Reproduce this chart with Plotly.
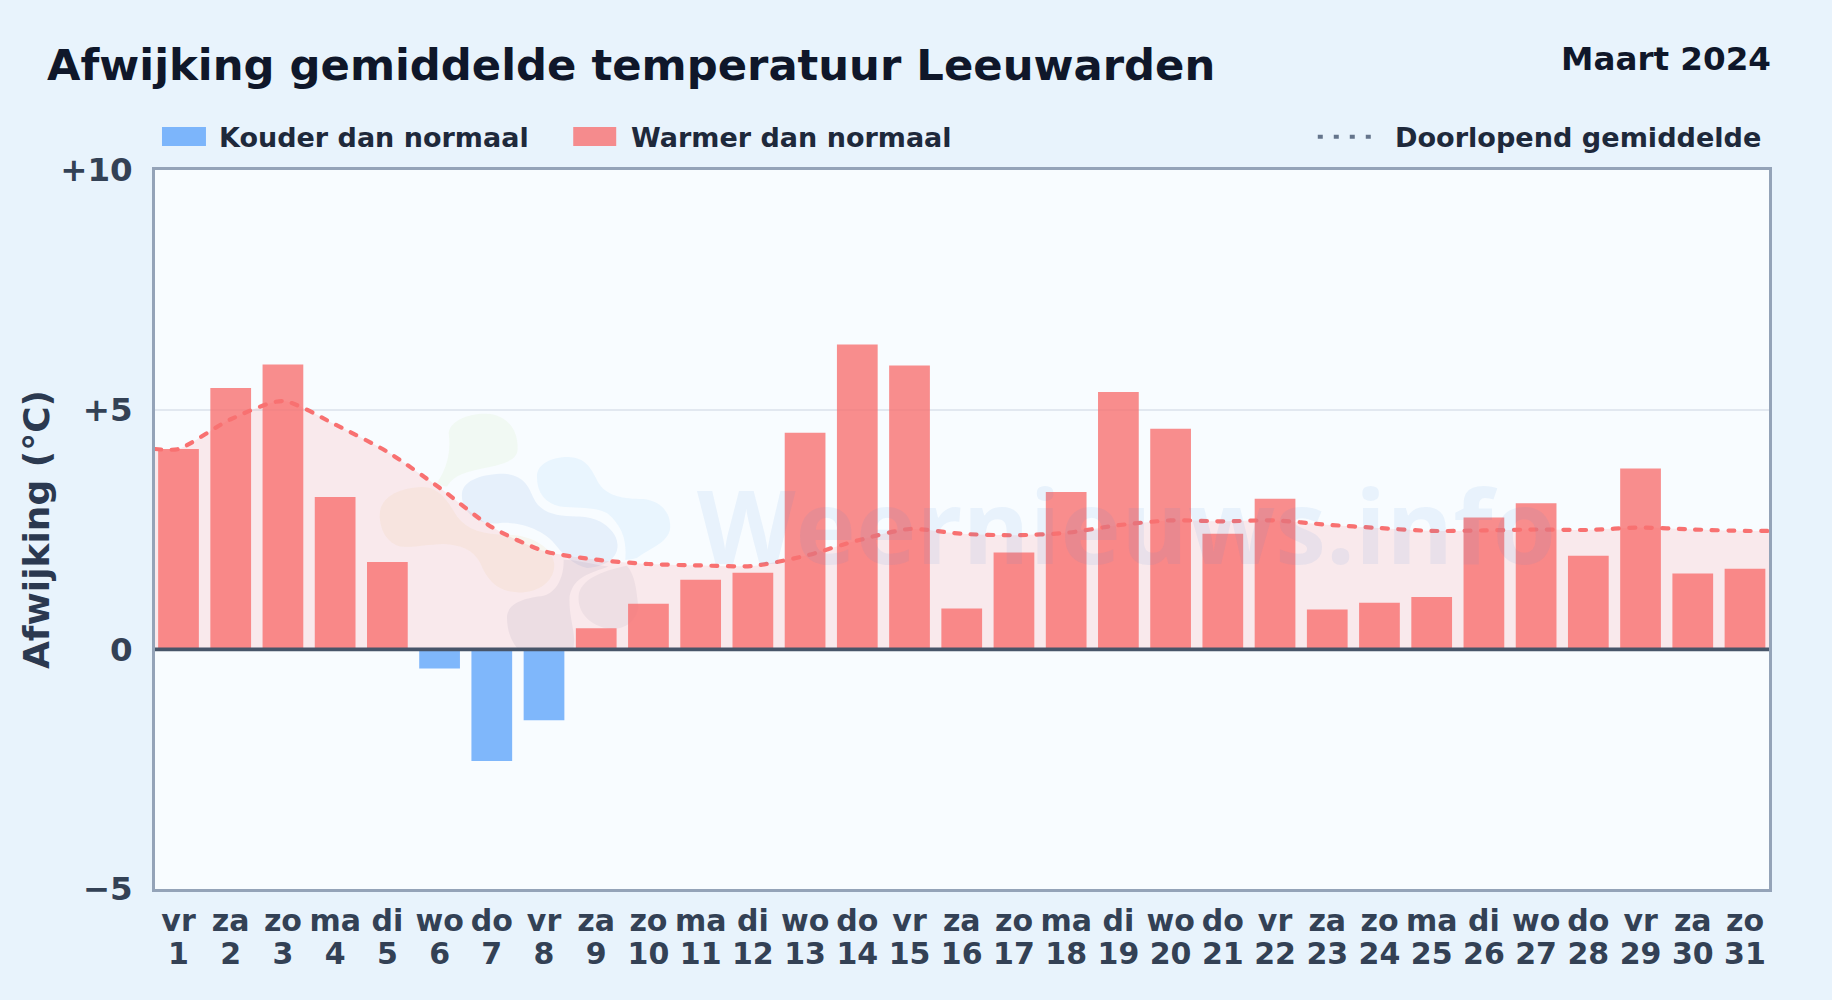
import plotly.graph_objects as go

W, H = 1832, 1000
PL, PR, PT, PB = 154.5, 1769.5, 170, 889.5

TITLE = "Afwijking gemiddelde temperatuur Leeuwarden"
PERIOD = "Maart 2024"
YTITLE = "Afwijking (°C)"
WATERMARK = "Weernieuws.info"
COLD_NAME = "Kouder dan normaal"
WARM_NAME = "Warmer dan normaal"
LINE_NAME = "Doorlopend gemiddelde"

days = list(range(1, 32))
weekdays = ["vr", "za", "zo", "ma", "di", "wo", "do", "vr", "za", "zo", "ma", "di", "wo", "do", "vr", "za",
            "zo", "ma", "di", "wo", "do", "vr", "za", "zo", "ma", "di", "wo", "do", "vr", "za", "zo"]
deviation = [4.18, 5.45, 5.94, 3.18, 1.82, -0.40, -2.33, -1.48, 0.44, 0.95, 1.45, 1.60, 4.52, 6.36, 5.92, 0.85,
             2.02, 3.28, 5.37, 4.60, 2.41, 3.14, 0.83, 0.97, 1.09, 2.75, 3.05, 1.95, 3.77, 1.58, 1.68]
X_RANGE = [0.55, 31.46]
running_x = [X_RANGE[0]] + days + [X_RANGE[1]]
running_mean = [4.18, 4.18, 4.80, 5.18, 4.69, 4.12, 3.37, 2.55, 2.05, 1.87, 1.78, 1.75, 1.74, 1.95, 2.27, 2.51,
                2.41, 2.38, 2.43, 2.59, 2.69, 2.67, 2.69, 2.60, 2.53, 2.47, 2.48, 2.50, 2.49, 2.54, 2.50, 2.47, 2.47]
y_ticks = [-5, 0, 5, 10]
y_labels = ["\u22125", "0", "+5", "+10"]

FONT = "DejaVu Sans"
RED = "248,113,113"
BLUE = "96,165,250"


def px(x):
    return (x - PL) / (PR - PL)


def py(y):
    return (PB - y) / (PB - PT)


cold_x = [d for d, v in zip(days, deviation) if v < 0]
cold_y = [v for v in deviation if v < 0]
warm_x = [d for d, v in zip(days, deviation) if v >= 0]
warm_y = [v for v in deviation if v >= 0]

fig = go.Figure()
fig.add_trace(go.Bar(x=cold_x, y=cold_y, width=0.78, name=COLD_NAME, marker=dict(color=f"rgba({BLUE},0.8)", line_width=0)))
fig.add_trace(go.Bar(x=warm_x, y=warm_y, width=0.78, name=WARM_NAME, marker=dict(color=f"rgba({RED},0.8)", line_width=0)))
fig.add_trace(go.Scatter(x=running_x, y=running_mean, name=LINE_NAME, mode="lines", xaxis="x2",
                         fill="tozeroy", fillcolor="rgba(255,110,105,0.13)",
                         line=dict(color=f"rgb({RED})", width=4.2, dash="6px,10.5px", shape="spline", smoothing=0.7)))


def logo_path(segments):
    """Logo outline, written as pixel points of a zoomed crop, to paper coordinates."""
    out = []
    for cmd, pts in segments:
        conv = []
        for zx, zy in pts:
            conv.append(f"{px(360 + zx / 3):.5f},{py(400 + zy / 3):.5f}")
        out.append(cmd + " ".join(conv))
    return " ".join(out) + " Z"


blobs = [
    ("rgba(185,225,140,0.10)", [("M", [(265, 100)]), ("C", [(270, 60), (330, 40), (380, 42)]),
                               ("C", [(440, 45), (475, 90), (472, 150)]), ("C", [(470, 185), (420, 195), (370, 205)]),
                               ("C", [(320, 215), (280, 225), (260, 260)]), ("C", [(240, 260), (235, 250), (230, 250)]),
                               ("C", [(250, 220), (275, 170), (265, 100)])]),
    ("rgba(240,200,120,0.11)", [("M", [(58, 345)]), ("C", [(60, 295), (110, 265), (185, 262)]),
                               ("C", [(240, 262), (265, 310), (290, 350)]), ("C", [(320, 390), (370, 405), (440, 405)]),
                               ("C", [(520, 405), (585, 450), (582, 500)]), ("C", [(578, 550), (530, 580), (470, 578)]),
                               ("C", [(410, 575), (380, 540), (360, 490)]), ("C", [(340, 450), (300, 435), (250, 433)]),
                               ("C", [(190, 435), (160, 445), (120, 440)]), ("C", [(80, 430), (58, 390), (58, 345)])]),
    ("rgba(90,150,215,0.11)", [("M", [(305, 280)]), ("C", [(310, 240), (370, 222), (430, 222)]),
                              ("C", [(490, 225), (505, 260), (520, 295)]), ("C", [(540, 340), (590, 350), (650, 350)]),
                              ("C", [(720, 348), (775, 395), (772, 440)]), ("C", [(770, 480), (730, 500), (680, 505)]),
                              ("C", [(640, 495), (610, 465), (590, 440)]), ("C", [(550, 385), (470, 365), (420, 370)]),
                              ("C", [(360, 380), (300, 340), (305, 280)])]),
    ("rgba(115,190,250,0.11)", [("M", [(530, 230)]), ("C", [(530, 190), (580, 170), (630, 172)]),
                               ("C", [(680, 175), (695, 210), (715, 250)]), ("C", [(740, 290), (790, 298), (850, 298)]),
                               ("C", [(905, 305), (932, 340), (930, 385)]), ("C", [(925, 430), (870, 445), (830, 475)]),
                               ("C", [(810, 480), (800, 480), (795, 480)]), ("C", [(800, 430), (790, 380), (740, 340)]),
                               ("C", [(700, 320), (650, 325), (600, 320)]), ("C", [(555, 310), (530, 280), (530, 230)])]),
    ("rgba(80,80,130,0.08)", [("M", [(440, 650)]), ("C", [(445, 605), (500, 595), (550, 588)]),
                             ("C", [(590, 578), (612, 530), (610, 480)]), ("C", [(650, 480), (700, 495), (745, 500)]),
                             ("C", [(690, 520), (640, 530), (628, 590)]), ("C", [(625, 640), (640, 680), (642, 720)]),
                             ("L", [(640, 745)]), ("L", [(470, 745)]), ("C", [(450, 720), (440, 690), (440, 650)])]),
    ("rgba(80,80,130,0.07)", [("M", [(655, 590)]), ("C", [(660, 540), (720, 515), (800, 498)]),
                             ("C", [(830, 530), (830, 600), (835, 620)]), ("C", [(830, 660), (800, 690), (750, 688)]),
                             ("C", [(690, 680), (652, 640), (655, 590)])]),
]

shapes = []
for color, seg in blobs:
    shapes.append(dict(type="path", xref="paper", yref="paper", path=logo_path(seg),
                       fillcolor=color, line_width=0, layer="below"))

# zero line above the bars
shapes.append(dict(type="line", xref="paper", yref="y", x0=0, x1=1, y0=0, y1=0,
                   line=dict(color="#475569", width=3.8), layer="above"))

# legend drawn by hand: swatch sizes and the split layout are not available in a Plotly legend
for x0, x1, col in [(161.5, 205.5, BLUE), (573, 616, RED)]:
    shapes.append(dict(type="rect", xref="paper", yref="paper", x0=px(x0), x1=px(x1), y0=py(146), y1=py(127),
                       fillcolor=f"rgba({col},0.8)", line_width=0))
shapes.append(dict(type="line", xref="paper", yref="paper", x0=px(1318), x1=px(1372), y0=py(136.7), y1=py(136.7),
                   line=dict(color="#64748b", width=4, dash="5px,11px")))


def note(text, x, y, size, color, anchor="left", bold=True, family=FONT, weight=None):
    font = dict(family=family, size=size, color=color)
    if weight:
        font["weight"] = weight
    return dict(text=f"<b>{text}</b>" if bold else text, xref="paper", yref="paper", x=px(x), y=py(y),
                xanchor=anchor, yanchor="middle", showarrow=False, borderpad=0, font=font)


annotations = [
    note(WATERMARK, 1127, 525, 102, "rgba(70,140,215,0.085)", anchor="center", bold=False, family="Open Sans", weight=700),
    note(TITLE, 45, 65, 43.3, "#0f172a"),
    note(PERIOD, 1773, 59, 32.6, "#0f172a", anchor="right"),
    note(COLD_NAME, 218, 137, 27, "#1e293b"),
    note(WARM_NAME, 630, 137, 27, "#1e293b"),
    note(LINE_NAME, 1394, 137, 27.1, "#1e293b"),
]

common_x = dict(range=X_RANGE, tickvals=days, showgrid=False, zeroline=False, tickangle=0,
                ticks="outside", tickcolor="rgba(0,0,0,0)", tickfont=dict(family=FONT, size=30, color="#334155", weight="bold"))

fig.update_layout(
    width=W, height=H, showlegend=False, barmode="overlay",
    paper_bgcolor="#E8F3FC", plot_bgcolor="#F8FCFF",
    margin=dict(l=PL, r=W - PR, t=PT, b=H - PB, autoexpand=False, pad=0),
    font=dict(family=FONT),
    xaxis=dict(**common_x, ticktext=weekdays, ticklen=3, showline=True, linecolor="#94a3b8", linewidth=2.6, mirror=True),
    xaxis2=dict(**common_x, ticktext=days, ticklen=37.5, overlaying="x", side="bottom", showline=False),
    yaxis=dict(range=[-5, 10], tickvals=y_ticks, ticktext=y_labels, showgrid=True, gridcolor="#e2e8f0", gridwidth=1.5,
               zeroline=False, showline=True, linecolor="#94a3b8", linewidth=2.6, mirror=True,
               ticks="outside", tickcolor="rgba(0,0,0,0)", ticklen=13,
               tickfont=dict(family=FONT, size=32.5, color="#334155", weight="bold"),
               title=dict(text=f"<b>{YTITLE}</b>", font=dict(family=FONT, size=36, color="#2b3950"), standoff=0)),
    shapes=shapes, annotations=annotations,
)

fig.write_html(
    "out.html",
    config={"displayModeBar": False},
    post_script="document.body.style.margin='0';document.body.style.overflow='hidden';"
                "document.querySelectorAll('.scatterlayer .js-line').forEach(function(p){p.style.strokeLinecap='round';});",
)
